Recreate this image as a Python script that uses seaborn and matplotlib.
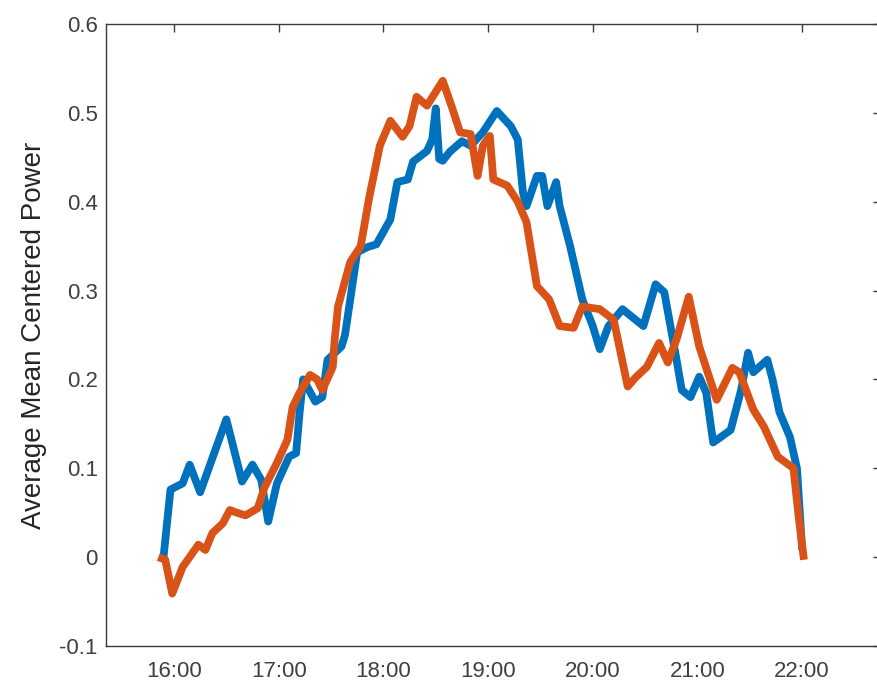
import numpy as np
import pandas as pd
import seaborn as sns
import matplotlib.pyplot as plt

# values
blue_times = ["15:54", "15:58", "16:05", "16:09", "16:15", "16:30", "16:39", "16:45",
              "16:50", "16:54", "16:59", "17:06", "17:10", "17:12", "17:14", "17:21",
              "17:25", "17:28", "17:36", "17:38", "17:45", "17:51", "17:56", "18:04",
              "18:08", "18:14", "18:17", "18:25", "18:28", "18:30", "18:32", "18:34",
              "18:38", "18:45", "18:50", "18:57", "19:05", "19:13", "19:17", "19:20",
              "19:22", "19:28", "19:31", "19:34", "19:39", "19:41", "19:47", "19:54",
              "20:00", "20:04", "20:09", "20:17", "20:29", "20:36", "20:41", "20:48",
              "20:51", "20:56", "21:01", "21:05", "21:09", "21:19", "21:25", "21:29",
              "21:32", "21:40", "21:43", "21:47", "21:53", "21:57", "22:00"]
blue_values = [0.000, 0.076, 0.083, 0.104, 0.073, 0.155, 0.085, 0.104,
               0.087, 0.040, 0.083, 0.113, 0.117, 0.163, 0.200, 0.175,
               0.180, 0.222, 0.237, 0.250, 0.343, 0.349, 0.352, 0.380,
               0.422, 0.425, 0.445, 0.457, 0.470, 0.505, 0.448, 0.446,
               0.456, 0.468, 0.463, 0.478, 0.502, 0.485, 0.470, 0.410,
               0.395, 0.429, 0.429, 0.395, 0.422, 0.395, 0.350, 0.290,
               0.260, 0.234, 0.260, 0.279, 0.260, 0.307, 0.298, 0.222,
               0.188, 0.180, 0.203, 0.185, 0.129, 0.143, 0.188, 0.230,
               0.208, 0.222, 0.200, 0.163, 0.135, 0.100, 0.008]

orange_times = ["15:51", "15:55", "15:59", "16:05", "16:14", "16:18", "16:22", "16:28",
                "16:32", "16:36", "16:41", "16:48", "16:52", "16:59", "17:05", "17:08",
                "17:12", "17:18", "17:22", "17:25", "17:31", "17:32", "17:34", "17:41",
                "17:47", "17:52", "17:58", "18:04", "18:11", "18:15", "18:19", "18:25",
                "18:34", "18:39", "18:44", "18:50", "18:54", "18:57", "19:01", "19:03",
                "19:11", "19:17", "19:22", "19:28", "19:35", "19:41", "19:49", "19:54",
                "20:04", "20:12", "20:20", "20:25", "20:31", "20:38", "20:43", "20:48",
                "20:55", "21:01", "21:11", "21:20", "21:24", "21:32", "21:38", "21:46",
                "21:55", "21:58", "22:01"]
orange_values = [0.000, -0.003, -0.041, -0.011, 0.014, 0.008, 0.027, 0.038,
                 0.053, 0.050, 0.047, 0.055, 0.079, 0.106, 0.132, 0.169,
                 0.185, 0.205, 0.200, 0.188, 0.214, 0.243, 0.282, 0.332,
                 0.350, 0.406, 0.463, 0.491, 0.473, 0.485, 0.518, 0.508,
                 0.536, 0.508, 0.478, 0.476, 0.429, 0.463, 0.474, 0.425,
                 0.418, 0.400, 0.377, 0.305, 0.290, 0.260, 0.258, 0.282,
                 0.279, 0.267, 0.192, 0.203, 0.214, 0.241, 0.219, 0.245,
                 0.293, 0.237, 0.177, 0.213, 0.208, 0.166, 0.147, 0.113,
                 0.100, 0.045, -0.003]

x_ticks = [16, 17, 18, 19, 20, 21, 22]
x_tick_labels = ["16:00", "17:00", "18:00", "19:00", "20:00", "21:00", "22:00"]
y_ticks = [-0.1, 0, 0.1, 0.2, 0.3, 0.4, 0.5, 0.6]
y_tick_labels = ["-0.1", "0", "0.1", "0.2", "0.3", "0.4", "0.5", "0.6"]


def to_hours(times):
    out = []
    for t in times:
        h, m = t.split(":")
        out.append(int(h) + int(m) / 60)
    return out


df = pd.concat([
    pd.DataFrame({"hour": to_hours(blue_times), "value": blue_values, "series": "blue"}),
    pd.DataFrame({"hour": to_hours(orange_times), "value": orange_values, "series": "orange"}),
], ignore_index=True)

sns.set_style("white")
plt.rcParams["font.family"] = ["Liberation Sans", "DejaVu Sans"]

axis_color = "#3a3a3a"
fig = plt.figure(figsize=(8.78, 6.84), dpi=100)
ax = fig.add_axes([0.1207, 0.0556, 0.8827, 0.9094])

sns.lineplot(data=df, x="hour", y="value", hue="series", sort=False,
             palette={"blue": "#0072BD", "orange": "#D95319"},
             hue_order=["blue", "orange"], linewidth=5.6, legend=False, ax=ax,
             solid_joinstyle="round", solid_capstyle="butt")

ax.set_xlim(15.3505, 22.7526)
ax.set_ylim(-0.1, 0.6)
ax.set_xticks(x_ticks)
ax.set_xticklabels(x_tick_labels)
ax.set_yticks(y_ticks)
ax.set_yticklabels(y_tick_labels)
ax.set_xlabel("")
ax.set_ylabel("Average Mean Centered Power", fontsize=20, color="#262626", labelpad=9)

for side in ["left", "bottom", "top", "right"]:
    ax.spines[side].set_visible(True)
    ax.spines[side].set_color(axis_color)
    ax.spines[side].set_linewidth(1.0)

ax.tick_params(axis="both", direction="in", length=6, width=1.0, color=axis_color,
               labelcolor="#404040", labelsize=16, top=True, right=True)
ax.tick_params(axis="x", pad=11)
ax.tick_params(axis="y", pad=6)

plt.savefig("out.png", dpi=100)
plt.close()
